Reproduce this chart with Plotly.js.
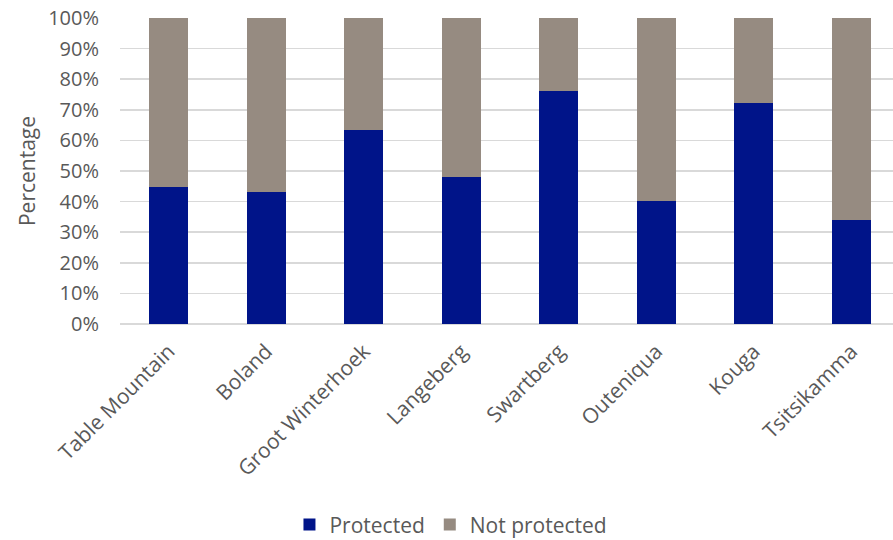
<!DOCTYPE html>
<html><head><meta charset="utf-8">
<script src="https://cdn.plot.ly/plotly-3.0.1.min.js"></script>
<style>html,body{margin:0;padding:0;background:#fff}#chart{width:893px;height:540px}</style>
</head><body><div id="chart"></div>
<script>
const categories = ["Table Mountain","Boland","Groot Winterhoek","Langeberg","Swartberg","Outeniqua","Kouga","Tsitsikamma"];
const protectedPct = [44.8, 43.2, 63.3, 47.9, 76.3, 40.3, 72.1, 34.1];
const notProtectedPct = protectedPct.map(v => 100 - v);
const yTicks = [0,10,20,30,40,50,60,70,80,90,100];
const yTickLabels = yTicks.map(v => v + "%");

const fam = "'Open Sans', sans-serif";
const txt = "#595959";
const traces = [
  {type:"bar", name:"Protected", x: categories.map((c,i)=>i), y: protectedPct, marker:{color:"#001489"}, width:0.4},
  {type:"bar", name:"Not protected", x: categories.map((c,i)=>i), y: notProtectedPct, marker:{color:"#968b81"}, width:0.4}
];
const layout = {
  width: 893, height: 540, barmode: "stack",
  margin: {l:120, r:0, t:18, b:216},
  paper_bgcolor:"#fff", plot_bgcolor:"#fff",
  font: {family: fam, size: 21, color: txt},
  showlegend: true,
  legend: {orientation:"h", xref:"container", yref:"container", x:0.505, xanchor:"center", y:0.028, yanchor:"middle", font:{family:fam, size:21, color:txt}, itemwidth:30, traceorder:"normal"},
  xaxis: {range:[-0.5, 7.426], tickmode:"array", tickvals: categories.map((c,i)=>i), ticktext: categories, tickangle:-45, showgrid:false, zeroline:false, showline:false, ticks:"", ticklabelstandoff:10, tickfont:{family:fam,size:21,color:txt}},
  yaxis: {range:[0,100], tickmode:"array", tickvals:yTicks, ticktext:yTickLabels, gridcolor:"#d9d9d9", gridwidth:1.5, zeroline:true, zerolinecolor:"#d9d9d9", zerolinewidth:1.5, showline:false, ticks:"", ticklabelstandoff:20, tickfont:{family:fam,size:20,color:txt},
    title:{text:"Percentage", font:{family:fam,size:21,color:txt}, standoff:6}}
};
Plotly.newPlot("chart", traces, layout, {displayModeBar:false, staticPlot:true});
</script></body></html>
